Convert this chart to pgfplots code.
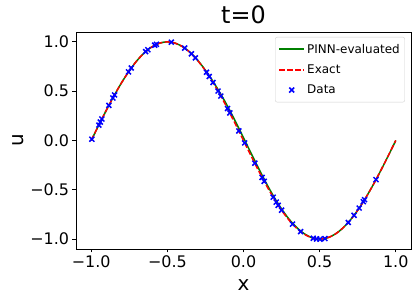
\documentclass[border=0pt]{standalone}
\usepackage{fontspec}
\setmainfont{DejaVu Sans}
\usepackage{pgfplots}
\usepackage{pgfplotstable}
\pgfplotsset{compat=1.18}
\definecolor{mplgreen}{RGB}{0,128,0}
\definecolor{mplred}{RGB}{255,0,0}
\definecolor{mplblue}{RGB}{0,0,255}
\pgfplotsset{
  greenlegend/.style={legend image code/.code={\draw[mplgreen, line width=2bp] (0bp,0.5bp) -- (25bp,0.5bp);}},
  redlegend/.style={legend image code/.code={\draw[mplred, line width=1.5bp, dash pattern=on 5.5bp off 2.4bp] (0bp,0bp) -- (25bp,0bp);}},
  marklegend/.style={legend image code/.code={\draw[##1] plot coordinates {(12.5bp,0bp)};}},
}

\pgfplotstableread{
x u
-1.00 0.0000
-0.95 0.1564
-0.90 0.3090
-0.85 0.4540
-0.80 0.5878
-0.75 0.7071
-0.70 0.8090
-0.65 0.8910
-0.60 0.9511
-0.55 0.9877
-0.50 1.0000
-0.45 0.9877
-0.40 0.9511
-0.35 0.8930
-0.30 0.8120
-0.25 0.7120
-0.20 0.5980
-0.15 0.4720
-0.10 0.3340
-0.05 0.1840
0.00 0.0280
0.05 -0.1300
0.10 -0.2850
0.15 -0.4340
0.20 -0.5720
0.25 -0.6940
0.30 -0.7990
0.35 -0.8830
0.40 -0.9461
0.45 -0.9857
0.50 -0.9990
0.55 -0.9877
0.60 -0.9511
0.65 -0.8910
0.70 -0.8090
0.75 -0.7071
0.80 -0.5878
0.85 -0.4540
0.90 -0.3090
0.95 -0.1564
1.00 0.0000
}\pinn

\pgfplotstableread{
x u
-1.00 0.0000
-0.95 0.1564
-0.90 0.3090
-0.85 0.4540
-0.80 0.5878
-0.75 0.7071
-0.70 0.8090
-0.65 0.8910
-0.60 0.9511
-0.55 0.9877
-0.50 1.0000
-0.45 0.9877
-0.40 0.9511
-0.35 0.8910
-0.30 0.8090
-0.25 0.7071
-0.20 0.5878
-0.15 0.4540
-0.10 0.3090
-0.05 0.1564
0.00 0.0000
0.05 -0.1564
0.10 -0.3090
0.15 -0.4540
0.20 -0.5878
0.25 -0.7071
0.30 -0.8090
0.35 -0.8910
0.40 -0.9511
0.45 -0.9877
0.50 -1.0000
0.55 -0.9877
0.60 -0.9511
0.65 -0.8910
0.70 -0.8090
0.75 -0.7071
0.80 -0.5878
0.85 -0.4540
0.90 -0.3090
0.95 -0.1564
1.00 0.0000
}\exact

\pgfplotstableread{
x u
-0.996 0.013
-0.950 0.156
-0.940 0.187
-0.930 0.218
-0.884 0.356
-0.858 0.431
-0.847 0.462
-0.755 0.696
-0.737 0.735
-0.643 0.901
-0.628 0.920
-0.583 0.966
-0.572 0.975
-0.474 0.997
-0.386 0.937
-0.342 0.879
-0.316 0.838
-0.243 0.692
-0.225 0.649
-0.200 0.588
-0.167 0.501
-0.149 0.451
-0.105 0.324
-0.090 0.279
-0.031 0.097
0.008 -0.025
0.074 -0.230
0.122 -0.374
0.136 -0.414
0.195 -0.575
0.215 -0.625
0.228 -0.657
0.250 -0.707
0.322 -0.848
0.375 -0.924
0.458 -0.991
0.480 -0.998
0.502 -1.000
0.535 -0.994
0.688 -0.831
0.726 -0.758
0.760 -0.685
0.787 -0.620
0.795 -0.600
0.870 -0.397
}\data

\begin{document}
\begin{tikzpicture}
\begin{axis}[
  scale only axis,
  width=335bp, height=217bp,
  xmin=-1.1, xmax=1.1, ymin=-1.1, ymax=1.1,
  xtick={-1,-0.5,0,0.5,1},
  xticklabels={−1.0,−0.5,0.0,0.5,1.0},
  ytick={-1,-0.5,0,0.5,1},
  yticklabels={−1.0,−0.5,0.0,0.5,1.0},
  tick align=outside, tick pos=left,
  major tick length=3.5bp,
  axis line style={line width=0.8bp},
  every tick/.style={black, line width=0.8bp},
  tick label style={font=\fontsize{16}{16}\selectfont},
  xlabel={x}, ylabel={u},
  label style={font=\fontsize{20}{20}\selectfont},
  xlabel style={yshift=-5bp},
  title={t=0},
  title style={font=\fontsize{24}{24}\selectfont, yshift=-1bp},
  legend cell align=left,
  legend style={at={(0.982,0.977)}, anchor=north east, draw=black!18,
    rounded corners=2bp, font=\fontsize{12}{12}\selectfont,
    row sep=6bp, inner xsep=3bp, inner ysep=5bp},
]
\addplot[mplgreen, line width=1.5bp, smooth, greenlegend] table {\pinn};
\addlegendentry{PINN-evaluated}
\addplot[mplred, line width=1.5bp, smooth, dash pattern=on 5.5bp off 2.4bp,
  redlegend] table {\exact};
\addlegendentry{Exact}
\addplot[only marks, mark=x, mark size=3.5bp, mplblue,
  mark options={line width=1.5bp}, marklegend] table {\data};
\addlegendentry{Data}
\end{axis}
\pgfresetboundingbox
\path ([xshift=-76bp,yshift=-52bp]current axis.south west)
  rectangle ([xshift=6bp,yshift=32bp]current axis.north east);
\end{tikzpicture}
\end{document}
